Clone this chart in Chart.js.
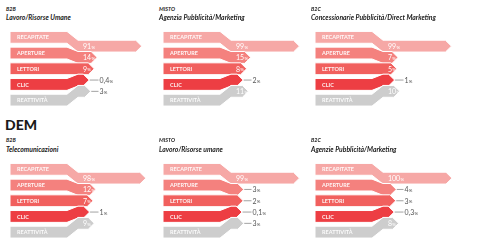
<!DOCTYPE html>
<html><head><meta charset="utf-8">
<script src="https://cdn.jsdelivr.net/npm/chart.js@4"></script>
<style>
html,body{margin:0;padding:0;background:#fff;overflow:hidden;width:480px;height:240px}
.t1,.t2,.h{position:absolute;white-space:nowrap;color:#1a1a1a;font-family:Lato,sans-serif}
.t1{font-size:5.4px;font-weight:700;font-style:italic;line-height:6px}
.t2{font-size:6.8px;font-weight:700;font-style:italic;line-height:7px}
.h{font-size:14px;font-weight:900;line-height:14px}
canvas{position:absolute}
</style></head><body>
<div class="h" style="left:5px;top:118px">DEM</div>
<script>
const categories = ["RECAPITATE","APERTURE","LETTORI","CLIC","REATTIVITÀ"];
const sectorTypes = ["B2B","MISTO","B2C","B2B","MISTO","B2C"];
const sectorNames = ["Lavoro/Risorse Umane","Agenzia Pubblicità/Marketing","Concessionarie Pubblicità/Direct Marketing","Telecomunicazioni","Lavoro/Risorse umane","Agenzie Pubblicità/Marketing"];
const values1 = [91, 14, 9, 0.4, 3];
const values2 = [99, 15, 8, 2, 11];
const values3 = [99, 7, 5, 1, 10];
const values4 = [98, 12, 7, 1, 9];
const values5 = [99, 3, 2, 0.1, 3];
const values6 = [100, 4, 3, 0.3, 8];
const seriesValues = [values1, values2, values3, values4, values5, values6];
const rowColors = ["#F6A8A6","#F4817E","#F1605E","#ED3E43","#CDCDCD"];

const SHIFT = 4.4;
const arrowPlugin = {
  id: 'arrows',
  afterDatasetsDraw(chart) {
    const ctx = chart.ctx;
    const meta = chart.getDatasetMeta(0);
    const vals = chart.data.datasets[0].data;
    const labels = chart.data.labels;
    const n = meta.data.length;
    const geo = [];
    ctx.save();
    meta.data.forEach((bar, i) => {
      const p = bar.getProps(['x','y','base','height'], true);
      const hh = p.height / 2;
      const s = ((n - 1) / 2 - i) * SHIFT;
      const L = p.base - 73, xa = p.base - 16, xb = p.base - 5;
      const xEnd = Math.max(p.x, xb);
      const xTip = xEnd + 6;
      const top = p.y - hh, bot = p.y + hh;
      ctx.beginPath();
      ctx.moveTo(L, top);
      ctx.lineTo(xa, top);
      ctx.lineTo(xb, top + s);
      ctx.lineTo(xEnd, top + s);
      ctx.lineTo(xTip, p.y + s);
      ctx.lineTo(xEnd, bot + s);
      ctx.lineTo(xb, bot + s);
      ctx.lineTo(xa, bot);
      ctx.lineTo(L, bot);
      ctx.closePath();
      ctx.fillStyle = rowColors[i];
      ctx.fill();
      ctx.strokeStyle = '#fff';
      ctx.lineWidth = 1;
      ctx.stroke();
      geo.push({L, y: p.y, s, xTip, base: p.base});
    });
    ctx.textBaseline = 'middle';
    geo.forEach((g, i) => {
      ctx.fillStyle = 'rgba(255,255,255,0.92)';
      ctx.font = '700 5.5px Lato';
      ctx.textAlign = 'left';
      ctx.fillText(labels[i], g.L + 7, g.y + 0.3);
      const v = vals[i];
      const num = String(v).replace('.', ',');
      const yv = g.y + g.s + 0.5;
      let x;
      if (v >= 5) {
        ctx.fillStyle = '#fff';
        x = g.base;
      } else {
        x = g.base + 16.5;
        ctx.strokeStyle = '#8a8a8a';
        ctx.lineWidth = 0.8;
        ctx.beginPath();
        ctx.moveTo(g.xTip + 0.5, g.y + g.s);
        ctx.lineTo(x - 1, g.y + g.s);
        ctx.stroke();
        ctx.fillStyle = '#555';
      }
      ctx.font = '400 7px Lato';
      ctx.fillText(num, x, yv);
      const w = ctx.measureText(num).width;
      ctx.font = '400 4.5px Lato';
      ctx.fillText('%', x + w + 0.3, yv + 0.6);
    });
    ctx.restore();
  }
};

const lefts = [7, 160, 312];
const tops = [25, 157];
seriesValues.forEach((vals, k) => {
  const col = k % 3, row = Math.floor(k / 3);
  const t1 = document.createElement('div');
  t1.className = 't1';
  t1.textContent = sectorTypes[k];
  t1.style.left = (lefts[col] - 1) + 'px';
  t1.style.top = (5.5 + row * 131.5) + 'px';
  document.body.appendChild(t1);
  const t2 = document.createElement('div');
  t2.className = 't2';
  t2.textContent = sectorNames[k];
  t2.style.left = (lefts[col] - 1) + 'px';
  t2.style.top = (14 + row * 131.5) + 'px';
  document.body.appendChild(t2);
  const c = document.createElement('canvas');
  c.width = 152; c.height = 88;
  c.style.left = lefts[col] + 'px';
  c.style.top = tops[row] + 'px';
  document.body.appendChild(c);
  new Chart(c, {
    type: 'bar',
    data: {
      labels: categories,
      datasets: [{
        data: vals,
        backgroundColor: 'rgba(0,0,0,0)',
        borderWidth: 0,
        barPercentage: 0.754,
        categoryPercentage: 1
      }]
    },
    options: {
      indexAxis: 'y',
      responsive: false,
      animation: false,
      layout: { padding: { top: 4.5, bottom: 5, left: 0, right: 0 } },
      plugins: { legend: { display: false }, tooltip: { enabled: false } },
      scales: {
        x: { type: 'linear', min: -131, max: 131, display: false },
        y: { display: false }
      }
    },
    plugins: [arrowPlugin]
  });
});
</script>
</body></html>
